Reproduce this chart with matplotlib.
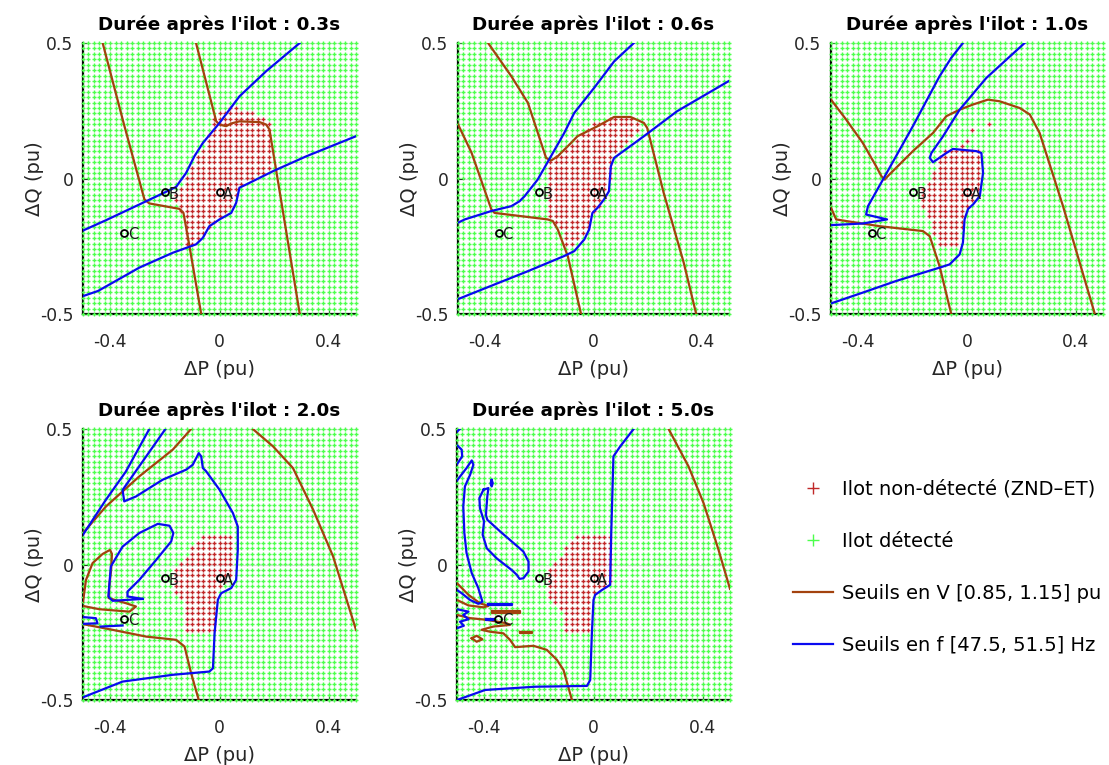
import numpy as np
import matplotlib
matplotlib.use('Agg')
import matplotlib.pyplot as plt
from matplotlib.path import Path
from matplotlib.lines import Line2D

plt.rcParams['font.family'] = ['DejaVu Sans']

# ---------------- data ----------------
durations = ['0.3s', '0.6s', '1.0s', '2.0s', '5.0s']
title_prefix = "Durée après l'ilot : "

grid_min, grid_max, grid_step = -0.5, 0.5, 0.02

pt_labels = ['A', 'B', 'C']
pt_dp = [0.0, -0.2, -0.35]
pt_dq = [-0.05, -0.05, -0.2]

xticks = [-0.4, 0, 0.4]
xticklabels = ['-0.4', '0', '0.4']
yticks = [-0.5, 0, 0.5]
yticklabels = ['-0.5', '0', '0.5']

# --- t = 0.3 s ---
v03_a = [(-0.428, 0.5), (-0.35, 0.2), (-0.275, -0.077), (-0.257, -0.092), (-0.147, -0.112),
         (-0.132, -0.127), (-0.11, -0.25), (-0.067, -0.5)]
v03_b = [(-0.086, 0.5), (-0.012, 0.211), (0.0, 0.199), (0.024, 0.193), (0.043, 0.203), (0.073, 0.211),
         (0.147, 0.208), (0.171, 0.199), (0.183, 0.181), (0.294, -0.5)]
f03_a = [(-0.5, -0.192), (-0.416, -0.154), (-0.294, -0.096), (-0.208, -0.055), (-0.159, -0.031),
         (-0.122, 0.021), (-0.092, 0.082), (-0.061, 0.131), (0.0, 0.205), (0.073, 0.303),
         (0.171, 0.396), (0.294, 0.5)]
f03_b = [(-0.5, -0.434), (-0.445, -0.415), (-0.294, -0.329), (-0.171, -0.274), (-0.086, -0.243),
         (-0.061, -0.219), (-0.037, -0.176), (0.0, -0.151), (0.043, -0.127), (0.061, -0.090),
         (0.073, -0.034), (0.098, -0.022), (0.196, 0.027), (0.318, 0.082), (0.5, 0.156)]
znd_03 = [(-0.15, -0.11), (-0.17, -0.05), (-0.13, -0.01), (-0.09, 0.07), (-0.05, 0.13), (-0.03, 0.19),
          (-0.01, 0.25), (0.05, 0.27), (0.15, 0.23), (0.19, 0.21), (0.19, 0.03), (0.11, -0.01),
          (0.07, -0.05), (0.05, -0.11), (0.01, -0.15), (-0.03, -0.19), (-0.07, -0.23), (-0.09, -0.25),
          (-0.13, -0.25), (-0.13, -0.13)]

# --- t = 0.6 s ---
v06_a = [(-0.5, 0.2), (-0.45, 0.095), (-0.407, -0.028), (-0.377, -0.114), (-0.365, -0.127),
         (-0.169, -0.151), (-0.150, -0.157), (-0.132, -0.188), (-0.095, -0.286), (-0.046, -0.5)]
v06_b = [(-0.389, 0.5), (-0.303, 0.377), (-0.242, 0.279), (-0.175, 0.076), (-0.157, 0.066),
         (-0.132, 0.082), (-0.083, 0.131), (-0.059, 0.156), (0.015, 0.193), (0.076, 0.227),
         (0.137, 0.227), (0.186, 0.205), (0.198, 0.187), (0.259, -0.053), (0.333, -0.311), (0.379, -0.5)]
f06_a = [(-0.5, -0.163), (-0.475, -0.151), (-0.377, -0.120), (-0.303, -0.102), (-0.273, -0.084),
         (-0.254, -0.065), (-0.206, -0.004), (-0.157, 0.082), (-0.108, 0.168), (-0.071, 0.242),
         (0.002, 0.334), (0.076, 0.432), (0.149, 0.5)]
f06_b = [(-0.5, -0.445), (-0.365, -0.391), (-0.242, -0.342), (-0.108, -0.286), (-0.071, -0.268),
         (-0.034, -0.225), (-0.016, -0.188), (-0.004, -0.127), (0.015, -0.108), (0.039, -0.077),
         (0.057, -0.047), (0.064, 0.045), (0.076, 0.076), (0.186, 0.156), (0.308, 0.248), (0.5, 0.36)]
znd_06 = [(-0.165, 0.07), (-0.13, 0.09), (-0.09, 0.13), (-0.05, 0.17), (0.01, 0.21), (0.07, 0.23),
          (0.15, 0.23), (0.17, 0.21), (0.16, 0.17), (0.11, 0.11), (0.07, 0.07), (0.065, 0.01),
          (0.055, -0.05), (0.03, -0.09), (-0.005, -0.13), (-0.02, -0.19), (-0.05, -0.23),
          (-0.09, -0.27), (-0.11, -0.21), (-0.13, -0.17), (-0.165, -0.15)]

# --- t = 1.0 s ---
v10_a = [(-0.5, 0.291), (-0.444, 0.217), (-0.383, 0.131), (-0.334, 0.045), (-0.315, 0.009),
         (-0.303, -0.004), (-0.285, 0.015), (-0.199, 0.101), (-0.125, 0.168), (-0.076, 0.230),
         (-0.027, 0.254), (0.022, 0.273), (0.077, 0.291), (0.120, 0.285), (0.194, 0.260),
         (0.231, 0.236), (0.267, 0.168), (0.353, -0.102), (0.470, -0.5)]
v10_b = [(-0.5, -0.108), (-0.481, -0.151), (-0.444, -0.157), (-0.321, -0.176), (-0.162, -0.194),
         (-0.137, -0.213), (-0.101, -0.323), (-0.058, -0.5)]
f10_a = [(-0.5, -0.172), (-0.383, -0.166), (-0.294, -0.151), (-0.371, -0.133), (-0.364, -0.102),
         (-0.309, -0.004), (-0.199, 0.193), (-0.101, 0.377), (-0.058, 0.445), (-0.015, 0.5)]
f10_b = [(-0.5, -0.461), (-0.383, -0.421), (-0.260, -0.378), (-0.101, -0.329), (-0.064, -0.317),
         (-0.027, -0.280), (-0.015, -0.237), (-0.009, -0.151), (0.004, -0.112), (0.022, -0.096),
         (0.047, -0.065), (0.059, 0.021), (0.053, 0.094), (0.034, 0.101), (-0.052, 0.109),
         (-0.076, 0.094), (-0.125, 0.060), (-0.137, 0.076), (-0.131, 0.094), (-0.088, 0.156),
         (-0.027, 0.254), (0.071, 0.371), (0.212, 0.5)]
znd_10 = [(-0.09, 0.11), (0.05, 0.11), (0.05, 0.0), (0.045, -0.06), (0.01, -0.09), (-0.01, -0.13),
          (-0.02, -0.2), (-0.03, -0.25), (-0.11, -0.25), (-0.13, -0.17), (-0.17, -0.09),
          (-0.17, -0.03), (-0.13, 0.01), (-0.11, 0.05)]
znd_10_extra = [(0.08, 0.2), (0.02, 0.18), (0.0, 0.14), (-0.02, 0.12)]

# --- t = 2.0 s ---
v20_a = [(-0.5, 0.116), (-0.416, 0.214), (-0.294, 0.325), (-0.171, 0.424), (-0.104, 0.5)]
v20_b = [(0.122, 0.5), (0.196, 0.436), (0.269, 0.356), (0.343, 0.202), (0.416, 0.030), (0.5, -0.241)]
v20_c = [(-0.5, -0.137), (-0.489, -0.057), (-0.465, 0.005), (-0.428, 0.039), (-0.401, 0.054),
         (-0.394, 0.039), (-0.397, -0.020), (-0.404, -0.081), (-0.406, -0.124), (-0.342, -0.143),
         (-0.306, -0.155), (-0.330, -0.174), (-0.440, -0.165), (-0.5, -0.153)]
v20_d = [(-0.5, -0.22), (-0.392, -0.241), (-0.269, -0.266), (-0.159, -0.278), (-0.135, -0.297),
         (-0.128, -0.303), (-0.104, -0.401), (-0.076, -0.5)]
f20_a = [(-0.5, 0.11), (-0.416, 0.239), (-0.343, 0.343), (-0.257, 0.5)]
f20_b = [(-0.198, 0.5), (-0.355, 0.275), (-0.349, 0.233), (-0.306, 0.251), (-0.208, 0.313),
         (-0.122, 0.350), (-0.098, 0.368), (-0.076, 0.411), (-0.067, 0.399), (-0.061, 0.356),
         (-0.049, 0.344), (0.0, 0.276), (0.049, 0.19), (0.067, 0.140), (0.067, 0.054),
         (0.061, -0.057), (0.043, -0.087), (0.006, -0.106), (-0.006, -0.130), (-0.018, -0.253),
         (-0.024, -0.383), (-0.037, -0.395), (-0.171, -0.407), (-0.355, -0.432), (-0.5, -0.49)]
f20_c = [(-0.281, -0.127), (-0.337, -0.118), (-0.337, -0.100), (-0.294, -0.057), (-0.232, 0.017),
         (-0.177, 0.085), (-0.169, 0.116), (-0.183, 0.143), (-0.226, 0.150), (-0.294, 0.116),
         (-0.355, 0.066), (-0.398, -0.007), (-0.407, -0.118), (-0.392, -0.134), (-0.281, -0.127)]
f20_d = [(-0.5, -0.194), (-0.453, -0.198), (-0.447, -0.217), (-0.5, -0.219)]
f20_e = [(-0.435, -0.229), (-0.355, -0.225)]
znd_20 = [(-0.07, 0.11), (0.05, 0.11), (0.05, -0.05), (0.02, -0.08), (0.0, -0.1), (-0.01, -0.14),
          (-0.01, -0.25), (-0.13, -0.25), (-0.13, -0.15), (-0.17, -0.09), (-0.17, -0.03),
          (-0.13, 0.02), (-0.1, 0.07)]

# --- t = 5.0 s ---
v50_a = [(0.275, 0.5), (0.348, 0.362), (0.403, 0.227), (0.458, 0.054), (0.5, -0.09)]
v50_b = [(-0.5, -0.069), (-0.458, -0.112), (-0.416, -0.143), (-0.385, -0.153), (-0.403, -0.158),
         (-0.458, -0.151), (-0.5, -0.131)]
v50_c = [(-0.373, -0.172), (-0.269, -0.172), (-0.269, -0.178), (-0.373, -0.178), (-0.373, -0.172)]
v50_d = [(-0.5, -0.186), (-0.452, -0.198), (-0.391, -0.204), (-0.318, -0.217), (-0.306, -0.223),
         (-0.367, -0.229), (-0.410, -0.241), (-0.379, -0.248), (-0.330, -0.254), (-0.306, -0.278),
         (-0.287, -0.305), (-0.220, -0.300), (-0.171, -0.315), (-0.134, -0.352), (-0.110, -0.389),
         (-0.079, -0.5)]
v50_e = [(-0.446, -0.272), (-0.428, -0.263), (-0.407, -0.276), (-0.428, -0.285), (-0.446, -0.272)]
v50_f = [(-0.269, -0.249), (-0.226, -0.249), (-0.226, -0.253), (-0.269, -0.253), (-0.269, -0.249)]
f50_a = [(-0.5, -0.5), (-0.397, -0.463), (-0.214, -0.451), (-0.024, -0.448), (-0.012, -0.426),
         (-0.006, -0.254), (0.0, -0.131), (0.006, -0.112), (0.031, -0.094), (0.061, -0.075),
         (0.065, 0.116), (0.073, 0.399), (0.098, 0.436), (0.147, 0.5)]
f50_b = [(-0.5, 0.31), (-0.465, 0.356), (-0.446, 0.384), (-0.440, 0.368), (-0.452, 0.331),
         (-0.471, 0.288), (-0.477, 0.214), (-0.473, 0.116), (-0.465, 0.042), (-0.446, -0.032),
         (-0.422, -0.087), (-0.407, -0.137), (-0.422, -0.145), (-0.452, -0.131), (-0.483, -0.106),
         (-0.5, -0.094)]
f50_c = [(-0.5, 0.44), (-0.483, 0.424), (-0.481, 0.399), (-0.5, 0.37)]
f50_d = [(-0.403, 0.276), (-0.385, 0.282), (-0.389, 0.251), (-0.394, 0.183), (-0.389, 0.165),
         (-0.342, 0.122), (-0.257, 0.048), (-0.238, 0.011), (-0.238, -0.026), (-0.257, -0.051),
         (-0.271, -0.053), (-0.281, -0.038), (-0.3, -0.020), (-0.355, 0.023), (-0.391, 0.060),
         (-0.406, 0.110), (-0.401, 0.159), (-0.416, 0.208), (-0.418, 0.245), (-0.403, 0.276)]
f50_e = [(-0.373, 0.312), (-0.369, 0.300), (-0.373, 0.288), (-0.377, 0.300), (-0.373, 0.312)]
f50_f = [(-0.385, -0.147), (-0.300, -0.147), (-0.300, -0.151), (-0.385, -0.151), (-0.385, -0.147)]
f50_g = [(-0.394, -0.200), (-0.361, -0.200), (-0.361, -0.204), (-0.394, -0.204), (-0.394, -0.200)]
f50_h = [(-0.5, -0.165), (-0.458, -0.174), (-0.477, -0.186), (-0.458, -0.202), (-0.489, -0.211),
         (-0.475, -0.226), (-0.5, -0.235)]
f50_i = [(-0.5, 0.49), (-0.49, 0.5)]
znd_50 = [(-0.07, 0.11), (0.07, 0.11), (0.07, -0.07), (0.0, -0.11), (-0.01, -0.25), (-0.11, -0.25),
          (-0.12, -0.17), (-0.17, -0.11), (-0.17, -0.03), (-0.13, 0.02), (-0.1, 0.07)]

v_curves = [[v03_a, v03_b], [v06_a, v06_b], [v10_a, v10_b],
            [v20_a, v20_b, v20_c, v20_d], [v50_a, v50_b, v50_c, v50_d, v50_e, v50_f]]
f_curves = [[f03_a, f03_b], [f06_a, f06_b], [f10_a, f10_b],
            [f20_a, f20_b, f20_c, f20_d, f20_e],
            [f50_a, f50_b, f50_c, f50_d, f50_e, f50_f, f50_g, f50_h, f50_i]]
znd_polys = [znd_03, znd_06, znd_10, znd_20, znd_50]
znd_extra = [[], [], znd_10_extra, [], []]

# ---------------- style ----------------
col_v = '#A3420E'
col_f = '#0A0AF0'
col_red = '#C02828'
col_green = '#4CFF4C'
W, H = 1109, 765

# axes boxes in pixels: left, top, right, bottom
boxes = [(83, 43, 356, 314), (458, 43, 729, 314), (831, 43, 1103, 314),
         (83, 429, 356, 700), (457, 429, 730, 700)]

fig = plt.figure(figsize=(W / 100, H / 100), dpi=100)

gv = np.arange(grid_min, grid_max + grid_step / 2, grid_step)
GX, GY = np.meshgrid(gv, gv)
gpts = np.column_stack([GX.ravel(), GY.ravel()])

for i, (l, t, r, b) in enumerate(boxes):
    ax = fig.add_axes([l / W, 1 - b / H, (r - l) / W, (b - t) / H])
    ax.set_xlim(-0.5, 0.5)
    ax.set_ylim(-0.5, 0.5)

    inside = Path(znd_polys[i]).contains_points(gpts)
    for (ex, ey) in znd_extra[i]:
        inside |= (np.abs(gpts[:, 0] - ex) < 1e-6) & (np.abs(gpts[:, 1] - ey) < 1e-6)
    ax.plot(gpts[~inside, 0], gpts[~inside, 1], '+', color=col_green, ms=2.4, mew=1.0,
            ls='none', clip_on=False, zorder=3)
    ax.plot(gpts[inside, 0], gpts[inside, 1], '+', color=col_red, ms=2.4, mew=1.0,
            ls='none', clip_on=False, zorder=3)

    for c in v_curves[i]:
        xs, ys = zip(*c)
        ax.plot(xs, ys, color=col_v, lw=1.6, zorder=4, solid_joinstyle='round')
    for c in f_curves[i]:
        xs, ys = zip(*c)
        ax.plot(xs, ys, color=col_f, lw=1.6, zorder=4, solid_joinstyle='round')

    ax.plot(pt_dp, pt_dq, 'o', ms=5, mfc='none', mec='black', mew=1.3, ls='none', zorder=5)
    for lab, px, py in zip(pt_labels, pt_dp, pt_dq):
        ax.text(px + 0.014, py - 0.008, lab, fontsize=10.5, va='center', ha='left',
                color='#1a1a1a', zorder=6)

    ax.set_xticks(xticks)
    ax.set_xticklabels(xticklabels)
    ax.set_yticks(yticks)
    ax.set_yticklabels(yticklabels)
    ax.grid(True, color='#dcdcdc', lw=0.8)
    ax.set_axisbelow(True)
    ax.tick_params(direction='in', length=4, width=0.8, labelsize=12.3, colors='#262626',
                   labelcolor='#262626')
    ax.tick_params(axis='x', pad=14)
    ax.tick_params(axis='y', pad=7)
    for s in ['top', 'right']:
        ax.spines[s].set_visible(False)
    for s in ['left', 'bottom']:
        ax.spines[s].set_color('black')
        ax.spines[s].set_linewidth(1.6)
    ax.set_xlabel('ΔP (pu)', fontsize=14, color='#262626', labelpad=6)
    ax.set_ylabel('ΔQ (pu)', fontsize=14, color='#262626', labelpad=-3)
    ax.set_title(title_prefix + durations[i], fontsize=13.2, fontweight='bold', pad=9)

handles = [Line2D([], [], marker='+', color=col_red, ls='none', ms=8, mew=1.0),
           Line2D([], [], marker='+', color=col_green, ls='none', ms=8, mew=1.0),
           Line2D([], [], color=col_v, lw=1.6),
           Line2D([], [], color=col_f, lw=1.6)]
labels = ['Ilot non-détecté (ZND\u2013ET)', 'Ilot détecté',
          'Seuils en V [0.85, 1.15] pu', 'Seuils en f [47.5, 51.5] Hz']
fig.legend(handles, labels, loc='upper left', bbox_to_anchor=(785 / W, 1 - 472 / H),
           frameon=False, fontsize=14, handlelength=2.05, handletextpad=0.5,
           labelspacing=1.7, borderaxespad=0)

fig.savefig('out.png', dpi=100)
